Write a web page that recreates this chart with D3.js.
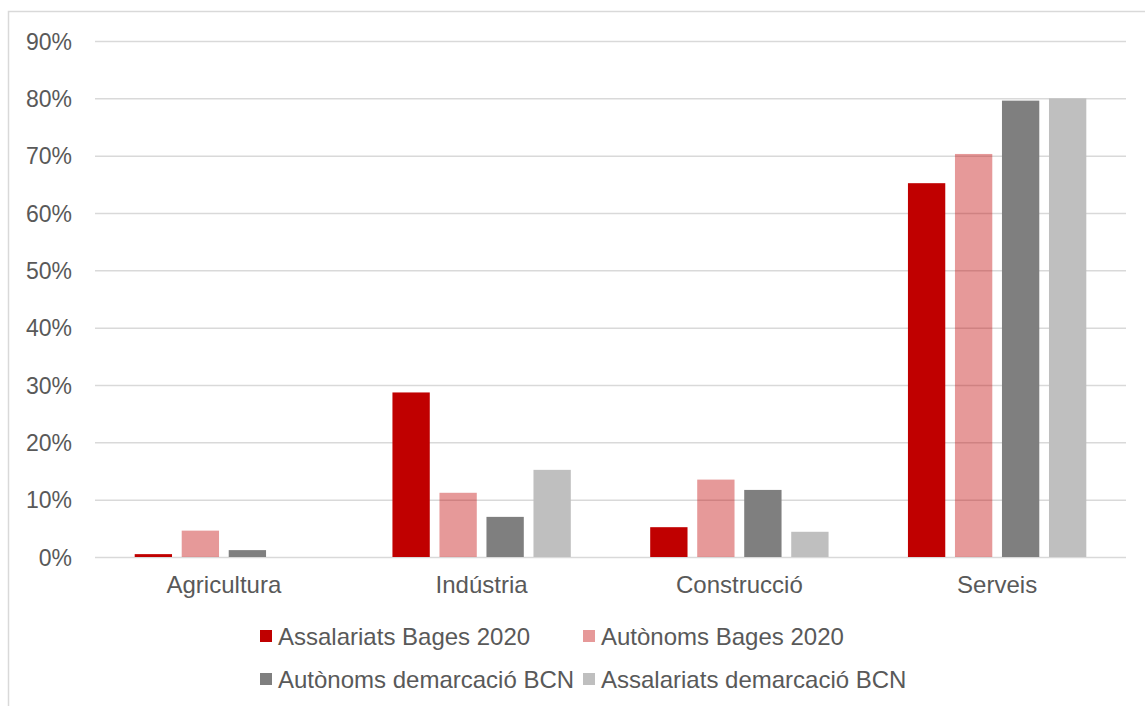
<!DOCTYPE html>
<html>
<head>
<meta charset="utf-8">
<script src="https://cdn.jsdelivr.net/npm/d3@7"></script>
<style>
  body { margin: 0; background: #fff; }
  svg { display: block; font-family: "Liberation Sans", Arial, sans-serif; }
</style>
</head>
<body>
<div id="chart"></div>
<script>
const categories = ['Agricultura', 'Indústria', 'Construcció', 'Serveis'];
const seriesNames = ['Assalariats Bages 2020', 'Autònoms Bages 2020', 'Autònoms demarcació BCN', 'Assalariats demarcació BCN'];
const assalariatsBages = [0.5, 28.7, 5.2, 65.2];
const autonomsBages = [4.6, 11.2, 13.5, 70.3];
const autonomsBCN = [1.2, 7.0, 11.7, 79.6];
const assalariatsBCN = [0.0, 15.2, 4.4, 80.0];
const yTicks = [0, 10, 20, 30, 40, 50, 60, 70, 80, 90];

const seriesValues = [assalariatsBages, autonomsBages, autonomsBCN, assalariatsBCN];
const colors = ['#C00000', '#C00000', '#7F7F7F', '#BFBFBF'];
const opacities = [1, 0.4, 1, 1];

const W = 1145, H = 706;
const plotLeft = 95, plotRight = 1126, plotTop = 41, plotBottom = 557;

const svg = d3.select('#chart').append('svg')
  .attr('width', W)
  .attr('height', H);

// chart area border (runs off the right and bottom edges)
svg.append('rect')
  .attr('x', 8.5).attr('y', 11.5)
  .attr('width', 1160).attr('height', 720)
  .attr('fill', '#fff')
  .attr('stroke', '#D9D9D9')
  .attr('stroke-width', 1.5);

const x0 = d3.scaleBand().domain(categories).range([plotLeft, plotRight]).paddingInner(0.308).paddingOuter(0.154);
const x1 = d3.scaleBand().domain(d3.range(seriesNames.length)).range([0, x0.bandwidth()]).paddingInner(0.206).paddingOuter(0);
const y = d3.scaleLinear().domain([0, 90]).range([plotBottom, plotTop]);

// y axis + gridlines
const yAxis = svg.append('g')
  .attr('transform', `translate(${plotLeft},0)`)
  .call(d3.axisLeft(y).tickValues(yTicks).tickFormat(d => d + '%').tickSize(-(plotRight - plotLeft)).tickPadding(23));
yAxis.select('.domain').remove();
yAxis.selectAll('line').attr('stroke', '#D9D9D9').attr('stroke-width', 1.5);
yAxis.selectAll('text').attr('fill', '#595959').attr('font-size', 23).attr('dy', '0.36em');

// bars
const groups = svg.append('g').selectAll('g').data(categories).join('g')
  .attr('transform', d => `translate(${x0(d)},0)`);

groups.selectAll('rect')
  .data((c, ci) => seriesValues.map((vals, si) => ({ si, v: vals[ci] })))
  .join('rect')
  .attr('x', d => x1(d.si))
  .attr('width', x1.bandwidth())
  .attr('y', d => y(d.v))
  .attr('height', d => y(0) - y(d.v))
  .attr('fill', d => colors[d.si])
  .attr('fill-opacity', d => opacities[d.si]);

// x axis labels
const xAxis = svg.append('g')
  .attr('transform', `translate(0,${plotBottom})`)
  .call(d3.axisBottom(x0).tickSize(0).tickPadding(19));
xAxis.select('.domain').remove();
xAxis.selectAll('text').attr('fill', '#595959').attr('font-size', 24);

// legend
const legendPos = [[260, 636], [583, 636], [260, 679], [583, 679]];
const legend = svg.append('g').selectAll('g').data(seriesNames).join('g')
  .attr('transform', (d, i) => `translate(${legendPos[i][0]},${legendPos[i][1]})`);
legend.append('rect')
  .attr('x', 0).attr('y', -6)
  .attr('width', 12).attr('height', 12)
  .attr('fill', (d, i) => colors[i])
  .attr('fill-opacity', (d, i) => opacities[i]);
legend.append('text')
  .attr('x', 18).attr('dy', '0.36em')
  .attr('fill', '#595959')
  .attr('font-size', 24)
  .text(d => d);
</script>
</body>
</html>
